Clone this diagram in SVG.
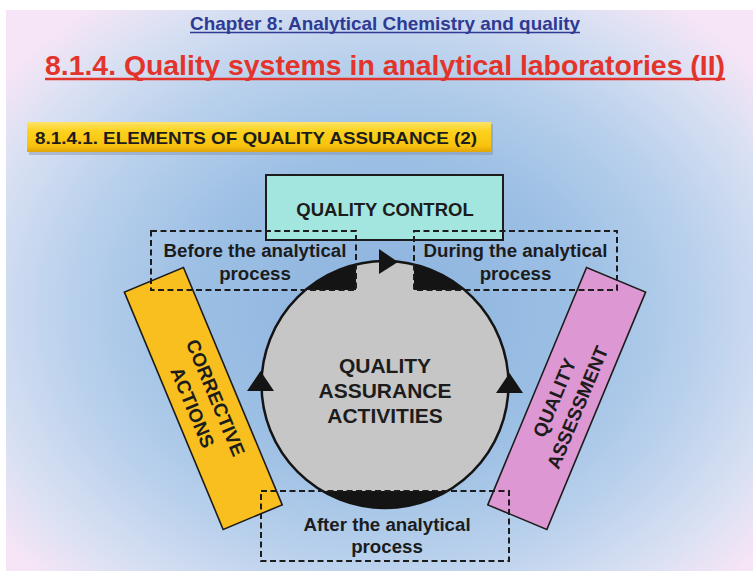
<svg xmlns="http://www.w3.org/2000/svg" width="753" height="571" viewBox="0 0 753 571">
<defs>
<radialGradient id="bg" cx="385" cy="310" r="480" gradientUnits="userSpaceOnUse" gradientTransform="translate(385 310) scale(1 0.8) translate(-385 -310)">
<stop offset="0" stop-color="#8cb3de"/>
<stop offset="0.4" stop-color="#9cbfe4"/>
<stop offset="0.65" stop-color="#b8d0ec"/>
<stop offset="0.87" stop-color="#dbe1f3"/>
<stop offset="1" stop-color="#f6e5f6"/>
</radialGradient>
<linearGradient id="bar" x1="0" y1="0" x2="0" y2="1">
<stop offset="0" stop-color="#fde36a"/>
<stop offset="0.3" stop-color="#fcd21e"/>
<stop offset="0.8" stop-color="#f7c20e"/>
<stop offset="1" stop-color="#e0a508"/>
</linearGradient>
<clipPath id="circ"><circle cx="385" cy="384.5" r="123.5"/></clipPath>
<style>
.lbl{font-family:"Liberation Sans",Arial,sans-serif;font-weight:bold;fill:#1c1c1c;text-anchor:middle}
.dash{fill:none;stroke:#1c1c1c;stroke-width:2;stroke-dasharray:6 3.5}
.arrow{fill:#141414}
</style>
</defs>
<rect x="0" y="0" width="753" height="571" fill="#ffffff"/>
<rect x="6" y="10" width="747" height="561" fill="url(#bg)"/>

<g id="header">
<text x="385" y="30" class="lbl" style="fill:#2e3a93" font-size="19" textLength="390" lengthAdjust="spacingAndGlyphs">Chapter 8: Analytical Chemistry and quality</text>
<line x1="190" y1="32.5" x2="580" y2="32.5" stroke="#2e3a93" stroke-width="1.6"/>
<text x="385" y="75" class="lbl" style="fill:#e3342c" font-size="28.5" textLength="680" lengthAdjust="spacingAndGlyphs">8.1.4. Quality systems in analytical laboratories (II)</text>
<line x1="45" y1="79" x2="725" y2="79" stroke="#e3342c" stroke-width="2.6"/>
</g>

<g id="section-banner">
<rect x="29" y="124" width="464" height="31" fill="#7f8fa8" opacity="0.45"/>
<rect x="27" y="122" width="464" height="30" fill="url(#bar)"/>
<text x="256" y="143.5" class="lbl" font-size="16.5" textLength="442" lengthAdjust="spacingAndGlyphs">8.1.4.1. ELEMENTS OF QUALITY ASSURANCE (2)</text>
</g>

<g id="corrective-actions">
<rect x="-32" y="-128.5" width="64" height="257" fill="#f8bf1e" stroke="#1c1c1c" stroke-width="1.6" transform="translate(203.3 398.5) rotate(-22.6)"/>
<g transform="translate(203.3 398.5) rotate(67.4)">
<text x="4" y="-5" class="lbl" font-size="19">CORRECTIVE</text>
<text x="4" y="20" class="lbl" font-size="19">ACTIONS</text>
</g>
</g>

<g id="quality-assessment">
<rect x="-32" y="-128.5" width="64" height="257" fill="#dd97d2" stroke="#1c1c1c" stroke-width="1.6" transform="translate(566.7 398.5) rotate(22.6)"/>
<g transform="translate(566.7 398.5) rotate(-67.4)">
<text x="-4" y="-5" class="lbl" font-size="19">QUALITY</text>
<text x="-4" y="20" class="lbl" font-size="19">ASSESSMENT</text>
</g>
</g>

<g id="quality-control">
<rect x="266" y="175" width="237" height="65" fill="#a2e6df" stroke="#1c1c1c" stroke-width="2"/>
<text x="385" y="216" class="lbl" font-size="18.5">QUALITY CONTROL</text>
</g>

<g id="quality-assurance-activities">
<circle cx="385" cy="384.5" r="123.5" fill="#c6c6c6"/>
<g clip-path="url(#circ)" fill="#141414">
<rect x="151" y="231" width="205" height="59"/>
<rect x="414" y="231" width="203" height="59"/>
<rect x="261" y="491" width="248" height="70"/>
</g>
<circle cx="385" cy="384.5" r="123.5" fill="none" stroke="#141414" stroke-width="2.5"/>
<text x="385" y="373" class="lbl" font-size="21">QUALITY</text>
<text x="385" y="398" class="lbl" font-size="21">ASSURANCE</text>
<text x="385" y="423" class="lbl" font-size="21">ACTIVITIES</text>
</g>

<g id="before-process">
<rect x="151" y="231" width="205" height="59" class="dash"/>
<text x="255" y="257" class="lbl" font-size="18.7">Before the analytical</text>
<text x="255" y="280" class="lbl" font-size="18.7">process</text>
</g>

<g id="during-process">
<rect x="414" y="231" width="203" height="59" class="dash"/>
<text x="515.5" y="257" class="lbl" font-size="18.7">During the analytical</text>
<text x="515.5" y="280" class="lbl" font-size="18.7">process</text>
</g>

<g id="after-process">
<rect x="261" y="491" width="248" height="70" class="dash"/>
<text x="387" y="531" class="lbl" font-size="18.7">After the analytical</text>
<text x="387" y="553" class="lbl" font-size="18.7">process</text>
</g>

<g id="connectors">
<polygon class="arrow" points="379,249 379,274 398,262"/>
<polygon class="arrow" points="260.5,371 247,391 274,391"/>
<polygon class="arrow" points="509.5,373 496,393 523,393"/>
</g>
</svg>
